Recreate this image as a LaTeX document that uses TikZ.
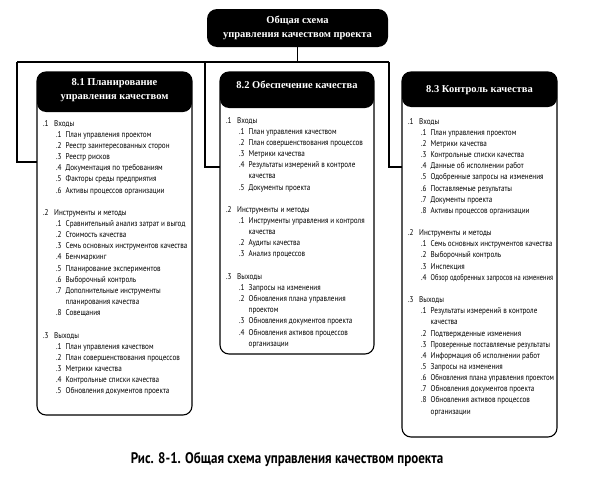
\documentclass[tikz,border=0pt]{standalone}
\usepackage{fontspec}
\usepackage{graphicx}
\setmainfont{Liberation Serif}
\newfontfamily\qbodyfont[FakeStretch=0.85]{PT Sans}
\usetikzlibrary{calc}

\newcommand{\qgrp}[2]{\makebox[11pt][l]{#1}#2}
\newcommand{\qitem}[2]{\hspace*{13pt}\makebox[9.5pt][l]{#1}#2}
\newcommand{\qcont}[1]{\hspace*{22.5pt}#1}

\begin{document}
\begin{tikzpicture}[x=1pt,y=-1pt,
    conn/.style={line width=1.1pt},
    qbox/.style={draw,fill=white,line width=1.1pt,rounded corners=9pt,
      inner sep=0pt,outer sep=0pt,anchor=north west,
      path picture={\fill[black] (path picture bounding box.north west)
        rectangle ([yshift=-#1]path picture bounding box.north east);}},
    qhead/.style={text=white,font=\fontsize{10.5}{14}\selectfont\bfseries,
      align=center,inner sep=0pt},
    qbody/.style={font=\qbodyfont\fontsize{8.4}{11.15}\selectfont,
      align=left,anchor=north west,inner sep=0pt}]
    \useasboundingbox (0,0) rectangle (591,479);
    \node[fill=black,rounded corners=10pt,minimum width=181pt,minimum height=38pt,
      inner sep=0pt,text=white,align=center,
      font=\fontsize{10.5}{14}\selectfont\bfseries] (title) at (297.5,28)
      {Общая схема\\управления качеством проекта};
    \node[qbox=40pt,minimum width=155pt,minimum height=343pt] (box1) at (37,72) {};
    \node[qbox=36pt,minimum width=154pt,minimum height=282pt] (box2) at (220,72) {};
    \node[qbox=35pt,minimum width=155pt,minimum height=365pt] (box3) at (402,72) {};
    \coordinate (bl) at (17,62);
    \coordinate (bm) at (205,62);
    \coordinate (br) at (389,62);
    \coordinate (t1) at (0,162);
    \coordinate (t2) at (0,167);
    \draw[conn] (title.south) -- (title.south |- bl);
    \draw[conn] (bl) -- (br);
    \draw[conn] (bl) |- (box1.west |- t1);
    \draw[conn] (bm) |- (box2.west |- t2);
    \draw[conn] (br) |- (box3.west |- t2);
    \node[qhead] (h1) at (114.5,90) {8.1 Планирование\\управления качеством};
    \node[qhead] (h2) at (297,85) {8.2 Обеспечение качества};
    \node[qhead] (h3) at (479.5,90) {8.3 Контроль качества};
    \node[qbody] (b1) at (43,120) {%
      \qgrp{.1}{Входы}\\
      \qitem{.1}{План управления проектом}\\
      \qitem{.2}{Реестр заинтересованных сторон}\\
      \qitem{.3}{Реестр рисков}\\
      \qitem{.4}{Документация по требованиям}\\
      \qitem{.5}{Факторы среды предприятия}\\
      \qitem{.6}{Активы процессов организации}\\[11.15pt]
      \qgrp{.2}{Инструменты и методы}\\
      \qitem{.1}{Сравнительный анализ затрат и выгод}\\
      \qitem{.2}{Стоимость качества}\\
      \qitem{.3}{Семь основных инструментов качества}\\
      \qitem{.4}{Бенчмаркинг}\\
      \qitem{.5}{Планирование экспериментов}\\
      \qitem{.6}{Выборочный контроль}\\
      \qitem{.7}{Дополнительные инструменты}\\
      \qcont{планирования качества}\\
      \qitem{.8}{Совещания}\\[11.15pt]
      \qgrp{.3}{Выходы}\\
      \qitem{.1}{План управления качеством}\\
      \qitem{.2}{План совершенствования процессов}\\
      \qitem{.3}{Метрики качества}\\
      \qitem{.4}{Контрольные списки качества}\\
      \qitem{.5}{Обновления документов проекта}};
    \node[qbody] (b2) at (226,117) {%
      \qgrp{.1}{Входы}\\
      \qitem{.1}{План управления качеством}\\
      \qitem{.2}{План совершенствования процессов}\\
      \qitem{.3}{Метрики качества}\\
      \qitem{.4}{Результаты измерений в контроле}\\
      \qcont{качества}\\
      \qitem{.5}{Документы проекта}\\[11.15pt]
      \qgrp{.2}{Инструменты и методы}\\
      \qitem{.1}{Инструменты управления и контроля}\\
      \qcont{качества}\\
      \qitem{.2}{Аудиты качества}\\
      \qitem{.3}{Анализ процессов}\\[11.15pt]
      \qgrp{.3}{Выходы}\\
      \qitem{.1}{Запросы на изменения}\\
      \qitem{.2}{Обновления плана управления}\\
      \qcont{проектом}\\
      \qitem{.3}{Обновления документов проекта}\\
      \qitem{.4}{Обновления активов процессов}\\
      \qcont{организации}};
    \node[qbody] (b3) at (408,118) {%
      \qgrp{.1}{Входы}\\
      \qitem{.1}{План управления проектом}\\
      \qitem{.2}{Метрики качества}\\
      \qitem{.3}{Контрольные списки качества}\\
      \qitem{.4}{Данные об исполнении работ}\\
      \qitem{.5}{Одобренные запросы на изменения}\\
      \qitem{.6}{Поставляемые результаты}\\
      \qitem{.7}{Документы проекта}\\
      \qitem{.8}{Активы процессов организации}\\[11.15pt]
      \qgrp{.2}{Инструменты и методы}\\
      \qitem{.1}{Семь основных инструментов качества}\\
      \qitem{.2}{Выборочный контроль}\\
      \qitem{.3}{Инспекция}\\
      \qitem{.4}{\scalebox{0.9}[1]{Обзор одобренных запросов на изменения}}\\[11.15pt]
      \qgrp{.3}{Выходы}\\
      \qitem{.1}{Результаты измерений в контроле}\\
      \qcont{качества}\\
      \qitem{.2}{Подтвержденные изменения}\\
      \qitem{.3}{\scalebox{0.95}[1]{Проверенные поставляемые результаты}}\\
      \qitem{.4}{Информация об исполнении работ}\\
      \qitem{.5}{Запросы на изменения}\\
      \qitem{.6}{\scalebox{0.96}[1]{Обновления плана управления проектом}}\\
      \qitem{.7}{Обновления документов проекта}\\
      \qitem{.8}{Обновления активов процессов}\\
      \qcont{организации}};
    \node[font=\qbodyfont\bfseries\fontsize{15.3}{17}\selectfont] (caption) at (287,459)
      {Рис. 8-1. Общая схема управления качеством проекта};
\end{tikzpicture}
\end{document}
